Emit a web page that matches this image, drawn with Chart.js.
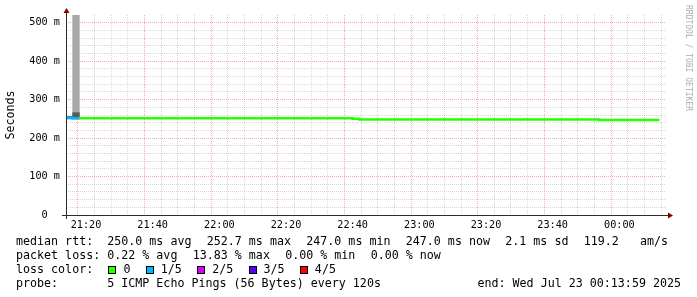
<!DOCTYPE html>
<html><head><meta charset="utf-8">
<script src="https://cdn.jsdelivr.net/npm/chart.js@4"></script>
<style>html,body{margin:0;padding:0;background:#fff}canvas{display:block}</style>
</head><body>
<canvas id="c" width="697" height="297"></canvas>
<script>
// ---------------- data ----------------
const startTime = '21:14';      // graph start
const spanMinutes = 180;        // 3 hours shown
const stepMinutes = 2;          // 120 s probe interval
const pings = 5;

// median rtt per 120 s step (ms)
const medianMs = [
  252.7, 252.7,
  251.8, 251.8, 251.8, 251.8, 251.8, 251.8, 251.8, 251.8, 251.8, 251.8,
  251.8, 251.8, 251.8, 251.8, 251.8, 251.8, 251.8, 251.8, 251.8, 251.8,
  251.8, 251.8, 251.8, 251.8, 251.8, 251.8, 251.8, 251.8, 251.8, 251.8,
  251.8, 251.8, 251.8, 251.8, 251.8, 251.8, 251.8, 251.8, 251.8, 251.8,
  251.8, 251.8,
  250.0,
  248.6, 248.6, 248.6, 248.6, 248.6, 248.6, 248.6, 248.6, 248.6, 248.6,
  248.6, 248.6, 248.6, 248.6, 248.6, 248.6, 248.6, 248.6, 248.6, 248.6,
  248.6, 248.6, 248.6, 248.6, 248.6, 248.6, 248.6, 248.6, 248.6, 248.6,
  248.6, 248.6, 248.6, 248.6, 248.6, 248.6,
  247.0, 247.0, 247.0, 247.0, 247.0, 247.0, 247.0, 247.0
];
// packet loss per step (%)
const lossPct = [
  6.17, 13.83,
  0, 0, 0, 0, 0, 0, 0, 0, 0, 0, 0, 0, 0, 0, 0, 0, 0, 0, 0, 0,
  0, 0, 0, 0, 0, 0, 0, 0, 0, 0, 0, 0, 0, 0, 0, 0, 0, 0, 0, 0,
  0, 0, 0, 0, 0, 0, 0, 0, 0, 0, 0, 0, 0, 0, 0, 0, 0, 0, 0, 0,
  0, 0, 0, 0, 0, 0, 0, 0, 0, 0, 0, 0, 0, 0, 0, 0, 0, 0, 0, 0,
  0, 0, 0, 0, 0, 0, 0
];
// smoke (spread of individual pings) where visible
const smokeStep  = [0, 1];
const smokeOuter = [[250.0, 256.0], [250.0, 520.0]];
const smokeInner = [[250.0, 256.0], [250.0, 266.0]];

// axis labels
const xTickLabels = ['21:20', '21:40', '22:00', '22:20', '22:40', '23:00', '23:20', '23:40', '00:00'];
const yTickValues = [0, 100, 200, 300, 400, 500];
const yTickLabels = ['0  ', '100 m', '200 m', '300 m', '400 m', '500 m'];
const yMax = 520;

// legend
const lossLabels = ['0', '1/5', '2/5', '3/5', '4/5'];
const lossColors = ['#26ff00', '#00b8ff', '#dd00ff', '#5500ff', '#ff0000'];
const legendLine1 = ['median rtt:  250.0 ms avg', '252.7 ms max', '247.0 ms min', '247.0 ms now', '2.1 ms sd', '119.2   am/s'];
const legendLine2 = ['packet loss: 0.22 % avg', '13.83 % max', '0.00 % min', '0.00 % now'];
const legendLine3Label = 'loss color:';
const legendLine4 = 'probe:       5 ICMP Echo Pings (56 Bytes) every 120s';
const endText = 'end: Wed Jul 23 00:13:59 2025';
const watermark = 'RRDTOOL / TOBI OETIKER';

// ---------------- styles ----------------
const MONO = '"DejaVu Sans Mono", monospace';
const GRID = 'rgba(140,140,140,0.35)';
const MGRID = 'rgba(230,90,90,0.5)';
const AXIS = '#2c2c2c';
const ARROW = '#7f0000';

// ---------------- helpers ----------------
const toMin = s => { const [h, m] = s.split(':').map(Number); return h * 60 + m; };
const xMin = toMin(startTime);
const xMax = xMin + spanMinutes;
const labelMin = s => { let v = toMin(s); if (v < xMin) v += 1440; return v; };
const xMajor = new Map(xTickLabels.map(l => [labelMin(l), l]));
const yMajor = new Map(yTickValues.map((v, i) => [v, yTickLabels[i]]));
const lossIdx = lossPct.map(p => Math.min(lossColors.length - 1, Math.ceil(p / 100 * pings - 1e-9)));

const linePts = medianMs.map((v, i) => ({x: xMin + i * stepMinutes, y: v}));
linePts.push({x: xMin + medianMs.length * stepMinutes, y: medianMs[medianMs.length - 1]});
const barPts = arr => smokeStep.map((s, i) => ({x: xMin + s * stepMinutes + stepMinutes / 2, y: arr[i]}));
const gridColor = (majors) => c => (c.tick && majors.has(c.tick.value)) ? MGRID : GRID;

const decor = {
  id: 'decor',
  afterDatasetsDraw(chart) {
    const {ctx, chartArea: {left, right, top, bottom}} = chart;
    ctx.save();
    ctx.strokeStyle = AXIS; ctx.lineWidth = 1;
    ctx.beginPath();
    ctx.moveTo(left - 4, bottom + 0.5); ctx.lineTo(right + 4, bottom + 0.5);
    ctx.moveTo(left + 0.5, bottom + 4); ctx.lineTo(left + 0.5, top - 4);
    ctx.stroke();
    ctx.fillStyle = ARROW;
    ctx.beginPath();
    ctx.moveTo(right + 2, bottom + 0.5 - 3); ctx.lineTo(right + 2, bottom + 0.5 + 3); ctx.lineTo(right + 7, bottom + 0.5);
    ctx.closePath(); ctx.fill();
    ctx.beginPath();
    ctx.moveTo(left + 0.5 - 3, top - 2); ctx.lineTo(left + 0.5 + 3, top - 2); ctx.lineTo(left + 0.5, top - 7);
    ctx.closePath(); ctx.fill();
    ctx.restore();
  },
  afterDraw(chart) {
    const {ctx} = chart;
    ctx.save();
    ctx.font = '11.67px ' + MONO;
    ctx.fillStyle = '#000';
    ctx.textBaseline = 'alphabetic';
    ctx.textAlign = 'left';
    const x0 = 16, gap = 15.3, lh = 14, y0 = 245;
    const row = (items, y) => { let x = x0; items.forEach(t => { ctx.fillText(t, x, y); x += ctx.measureText(t).width + gap; }); };
    row(legendLine1, y0);
    row(legendLine2, y0 + lh);
    let x = x0;
    ctx.fillText(legendLine3Label, x, y0 + 2 * lh);
    x += ctx.measureText(legendLine3Label).width + gap;
    lossLabels.forEach((l, i) => {
      const bx = Math.round(x), by = y0 + 2 * lh - 7;
      ctx.fillStyle = lossColors[i];
      ctx.fillRect(bx, by, 8, 8);
      ctx.strokeStyle = '#000'; ctx.lineWidth = 1;
      ctx.strokeRect(bx + 0.5, by + 0.5, 7, 7);
      ctx.fillStyle = '#000';
      ctx.fillText(l, x + 15, y0 + 2 * lh);
      x += 15 + ctx.measureText(l).width + gap;
    });
    ctx.fillText(legendLine4, x0, y0 + 3 * lh);
    ctx.textAlign = 'right';
    ctx.fillText(endText, 681, y0 + 3 * lh);
    ctx.font = '8px ' + MONO;
    ctx.fillStyle = 'rgba(0,0,0,0.35)';
    ctx.textAlign = 'left'; ctx.textBaseline = 'middle';
    ctx.translate(688, 5);
    ctx.rotate(Math.PI / 2);
    ctx.fillText(watermark, 0, 0);
    ctx.restore();
  }
};

new Chart(document.getElementById('c'), {
  type: 'line',
  data: {
    datasets: [
      {
        type: 'line', data: linePts, order: 0, stepped: 'after',
        borderWidth: 2.5, pointRadius: 0, fill: false,
        borderColor: lossColors[0],
        segment: { borderColor: c => lossColors[lossIdx[c.p0DataIndex]] }
      },
      { type: 'bar', data: barPts(smokeInner), order: 1, backgroundColor: '#5a5a5a', borderWidth: 0, grouped: false, barPercentage: 1, categoryPercentage: 1 },
      { type: 'bar', data: barPts(smokeOuter), order: 2, backgroundColor: '#a9a9a9', borderWidth: 0, grouped: false, barPercentage: 1, categoryPercentage: 1 }
    ]
  },
  options: {
    responsive: false, animation: false, devicePixelRatio: 1,
    layout: { padding: { left: 0, right: 31, top: 15, bottom: 0 } },
    plugins: { legend: { display: false }, tooltip: { enabled: false } },
    scales: {
      x: {
        type: 'linear', min: xMin, max: xMax, offset: false,
        afterBuildTicks: ax => { const t = []; for (let v = Math.ceil(xMin / 5) * 5; v < xMax; v += 5) t.push({value: v}); ax.ticks = t; },
        afterFit: s => { s.height = 82; },
        ticks: { autoSkip: false, maxRotation: 0, minRotation: 0, padding: 4, color: '#000',
                 font: { family: MONO, size: 10.2 }, callback: v => xMajor.get(v) ?? '' },
        grid: { drawTicks: false, lineWidth: 1, color: gridColor(xMajor) },
        border: { display: false, dash: [1, 1] }
      },
      y: {
        min: 0, max: yMax,
        afterBuildTicks: ax => { const t = []; for (let v = 0; v <= 500; v += 20) t.push({value: v}); ax.ticks = t; },
        afterFit: s => { s.width = 66; },
        ticks: { autoSkip: false, padding: 6, color: '#000', font: { family: MONO, size: 10.2 },
                 callback: v => yMajor.get(v) ?? '' },
        grid: { drawTicks: false, lineWidth: 1, color: gridColor(yMajor) },
        border: { display: false, dash: [1, 1] },
        title: { display: true, text: 'Seconds', color: '#000', font: { family: MONO, size: 11.67 }, padding: { top: 4, bottom: 0 } }
      }
    }
  },
  plugins: [decor]
});
</script>
</body></html>
